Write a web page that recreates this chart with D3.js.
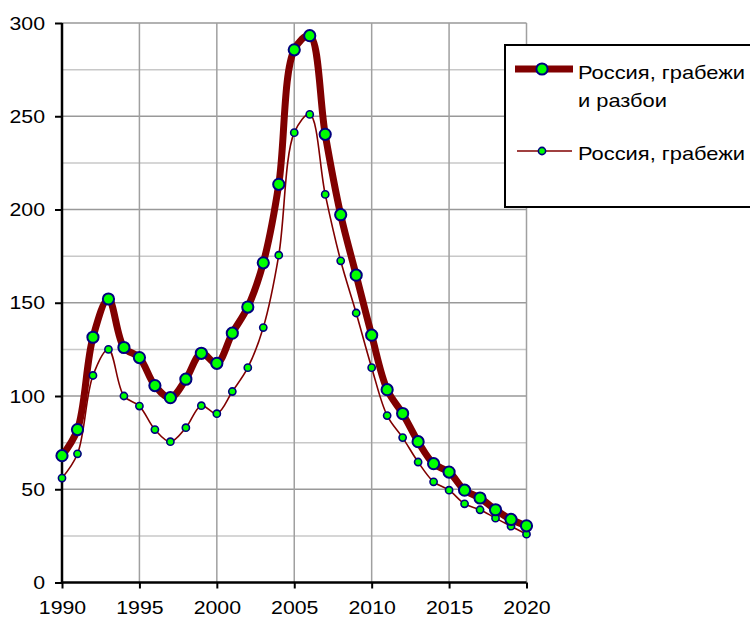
<!DOCTYPE html>
<html>
<head>
<meta charset="utf-8">
<script src="https://cdn.jsdelivr.net/npm/d3@7"></script>
<style>
  html, body { margin: 0; padding: 0; background: #fff; }
  svg { display: block; font-family: "Liberation Sans", Arial, sans-serif; }
</style>
</head>
<body>
<svg id="chart" width="750" height="618"></svg>
<script>
const years = d3.range(1990, 2021);
const robberyAndAssault = [68, 82, 131.5, 152, 126, 120.6, 105.6, 99.1, 109, 122.9, 117.5, 133.7, 147.7, 171.4, 213.5, 285.6, 293.2, 240.3, 197.2, 164.8, 132.6, 103.4, 90.6, 75.5, 63.7, 59.2, 49.5, 45.3, 39, 33.8, 30.4];
const robbery = [56, 69, 111, 125, 100, 94.6, 82, 75.5, 83, 94.8, 90.5, 102.4, 115.2, 136.7, 175.5, 241.2, 251, 208.1, 172.5, 144.5, 115.2, 89.5, 77.7, 64.6, 54, 49.5, 42.2, 39, 34.5, 30.2, 25.9];
const seriesNames = ["Россия, грабежи и разбои", "Россия, грабежи"];
const xTicks = [1990, 1995, 2000, 2005, 2010, 2015, 2020];
const yTicks = [0, 50, 100, 150, 200, 250, 300];
const yMinorTicks = [25, 75, 125, 175, 225, 275];

const svg = d3.select("#chart");
const pLeft = 62, pRight = 526.5, pTop = 23, pBottom = 582.5;
const x = d3.scaleLinear().domain([1990, 2020]).range([pLeft, pRight]);
const y = d3.scaleLinear().domain([0, 300]).range([pBottom, pTop]);

function stretch(sel, k) {
  sel.each(function () {
    const len = this.getComputedTextLength();
    d3.select(this).attr("textLength", len * k).attr("lengthAdjust", "spacingAndGlyphs");
  });
}

// grid
const grid = svg.append("g");
grid.selectAll(".minor").data(yMinorTicks).join("line")
  .attr("x1", pLeft).attr("x2", pRight)
  .attr("y1", d => y(d)).attr("y2", d => y(d))
  .attr("stroke", "#c8c8c8").attr("stroke-width", 1.5);
grid.selectAll(".major").data(yTicks.filter(d => d > 0)).join("line")
  .attr("x1", pLeft).attr("x2", pRight)
  .attr("y1", d => y(d)).attr("y2", d => y(d))
  .attr("stroke", "#999").attr("stroke-width", 1.5);
grid.selectAll(".vgrid").data(xTicks.filter(d => d > 1990)).join("line")
  .attr("x1", d => x(d)).attr("x2", d => x(d))
  .attr("y1", pTop).attr("y2", pBottom)
  .attr("stroke", "#a0a0a0").attr("stroke-width", 1.5);

// axes
const yAxis = svg.append("g").attr("transform", `translate(${pLeft},0)`)
  .call(d3.axisLeft(y).tickValues(yTicks).tickSize(7).tickPadding(10));
const xAxis = svg.append("g").attr("transform", `translate(0,${pBottom})`)
  .call(d3.axisBottom(x).tickValues(xTicks).tickFormat(d3.format("d")).tickSize(6).tickPadding(12));
[yAxis, xAxis].forEach(a => {
  a.select(".domain").attr("stroke", "#000").attr("stroke-width", 2.5);
  a.selectAll(".tick line").attr("stroke", "#000").attr("stroke-width", 2);
  a.selectAll(".tick text").attr("fill", "#000").attr("font-size", 19)
    .attr("font-family", "'Liberation Sans', Arial, sans-serif");
  stretch(a.selectAll(".tick text"), 1.12);
});
yAxis.select(".domain").attr("d", `M0,${pBottom}V${pTop}`);
xAxis.select(".domain").attr("d", `M${pLeft},0H${pRight}`);

// lines
const line = d3.line().x((d, i) => x(years[i])).y(d => y(d)).curve(d3.curveCatmullRom.alpha(0.5));

svg.append("path").datum(robbery).attr("d", line)
  .attr("fill", "none").attr("stroke", "#800000").attr("stroke-width", 1.6);
svg.append("path").datum(robberyAndAssault).attr("d", line)
  .attr("fill", "none").attr("stroke", "#800000").attr("stroke-width", 7).attr("stroke-linejoin", "round");

svg.append("g").selectAll("circle").data(robbery).join("circle")
  .attr("cx", (d, i) => x(years[i])).attr("cy", d => y(d)).attr("r", 3.6)
  .attr("fill", "#00ff00").attr("stroke", "#000080").attr("stroke-width", 1.6);
svg.append("g").selectAll("circle").data(robberyAndAssault).join("circle")
  .attr("cx", (d, i) => x(years[i])).attr("cy", d => y(d)).attr("r", 5.6)
  .attr("fill", "#00ff00").attr("stroke", "#000080").attr("stroke-width", 2);

// legend
const lg = svg.append("g");
lg.append("rect").attr("x", 505).attr("y", 45).attr("width", 260).attr("height", 162)
  .attr("fill", "#fff").attr("stroke", "#000").attr("stroke-width", 2);
lg.append("line").attr("x1", 515).attr("x2", 573).attr("y1", 69).attr("y2", 69)
  .attr("stroke", "#800000").attr("stroke-width", 7);
lg.append("circle").attr("cx", 542).attr("cy", 69).attr("r", 5.6)
  .attr("fill", "#00ff00").attr("stroke", "#000080").attr("stroke-width", 2);
const legendLines = [
  { text: "Россия, грабежи", y: 79 },
  { text: "и разбои", y: 107 },
  { text: seriesNames[1], y: 160 }
];
const lt = lg.selectAll("text.leg").data(legendLines).join("text")
  .attr("class", "leg")
  .attr("x", 578).attr("y", d => d.y).attr("font-size", 19).attr("fill", "#000")
  .text(d => d.text);
stretch(lt, 1.15);
lg.append("line").attr("x1", 517).attr("x2", 572).attr("y1", 151).attr("y2", 151)
  .attr("stroke", "#800000").attr("stroke-width", 1.6);
lg.append("circle").attr("cx", 542).attr("cy", 151).attr("r", 3.6)
  .attr("fill", "#00ff00").attr("stroke", "#000080").attr("stroke-width", 1.6);
</script>
</body>
</html>
